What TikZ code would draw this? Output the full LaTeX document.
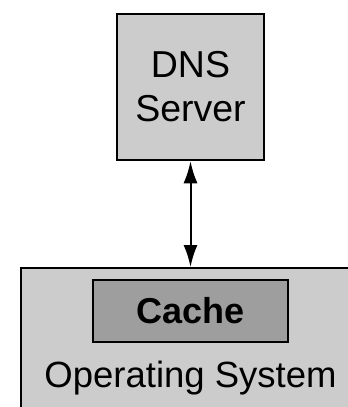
\documentclass[tikz,border=0pt]{standalone}
\usepackage{fontspec}
\setmainfont{Liberation Sans}
\usetikzlibrary{arrows.meta}
\definecolor{boxgray}{HTML}{CCCCCC}
\definecolor{cachegray}{HTML}{9E9E9E}
\tikzstyle{server}=[draw,line width=2.5pt,fill=boxgray,align=center,minimum width=147pt,minimum height=146pt,inner sep=0pt,font=\fontsize{37.5}{44}\selectfont]
\tikzstyle{system}=[draw,line width=2pt,fill=boxgray,minimum width=340pt,minimum height=220pt,inner sep=0pt,font=\fontsize{36.5}{44}\selectfont]
\tikzstyle{cachebox}=[draw,line width=2pt,fill=cachegray,minimum width=195pt,minimum height=62pt,inner sep=0pt,font=\fontsize{36}{44}\selectfont\bfseries]
\tikzstyle{link}=[draw,line width=2pt,{Latex[length=22pt,width=14pt]}-{Latex[length=22pt,width=14pt]}]

\begin{document}
\begin{tikzpicture}[x=1pt,y=-1pt]
    \useasboundingbox (0,0) rectangle (348,407);
    % First we draw the boxes
    \node[server] (dns) at (190.5,87) {DNS\\Server};
    \node[system] (os) at (190.5,378) {Operating System};
    \node[cachebox] (cache) at (190.5,311) {Cache};
    % Connect the server with the system
    \path[link] (dns) -- (os);
\end{tikzpicture}
\end{document}
